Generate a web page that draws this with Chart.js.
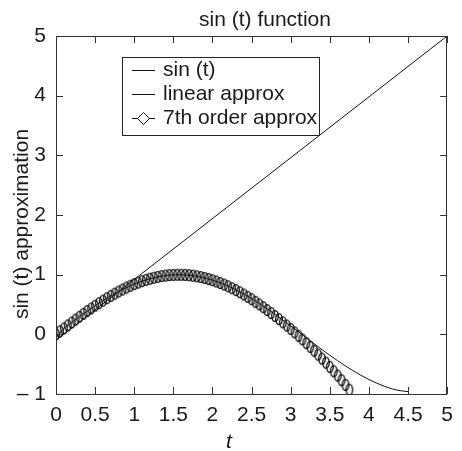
<!DOCTYPE html>
<html><head><meta charset="utf-8">
<script src="https://cdn.jsdelivr.net/npm/chart.js@4/dist/chart.umd.min.js"></script>
<style>html,body{margin:0;padding:0;background:#fff;overflow:hidden}canvas{display:block}</style>
</head><body>
<canvas id="c" width="462" height="451"></canvas>
<script>
// ---- data ----
const titleText = 'sin (t) function';
const xTitle = 't';
const yTitle = 'sin (t) approximation';
const seriesNames = ['sin (t)', 'linear approx', '7th order approx'];
const xTickValues = [0, 0.5, 1, 1.5, 2, 2.5, 3, 3.5, 4, 4.5, 5];
const yTickValues = [-1, 0, 1, 2, 3, 4, 5];

const sinT = [0,0.1,0.2,0.3,0.4,0.5,0.6,0.7,0.8,0.9,1,1.1,1.2,1.3,1.4,1.5,1.6,1.7,1.8,1.9,2,2.1,2.2,2.3,2.4,2.5,2.6,2.7,2.8,2.9,3,3.1,3.2,3.3,3.4,3.5,3.6,3.7,3.8,3.9,4,4.1,4.2,4.3,4.4,4.5];
const sinY = [-0.06,0.0998,0.1987,0.2955,0.3894,0.4794,0.5646,0.6442,0.7174,0.7833,0.8415,0.8912,0.9320,0.9636,0.9854,0.9975,0.9996,0.9917,0.9738,0.9463,0.9093,0.8632,0.8085,0.7457,0.6755,0.5985,0.5155,0.4274,0.3350,0.2392,0.1411,0.0416,-0.0584,-0.1577,-0.2555,-0.3508,-0.4425,-0.5298,-0.6119,-0.6878,-0.7568,-0.8183,-0.8716,-0.9162,-0.9450,-0.9600];

const linT = [0, 5];
const linY = [-0.1, 5];

const polyT = [0,0.05,0.1,0.15,0.2,0.25,0.3,0.35,0.4,0.45,0.5,0.55,0.6,0.65,0.7,0.75,0.8,0.85,0.9,0.95,1,1.05,1.1,1.15,1.2,1.25,1.3,1.35,1.4,1.45,1.5,1.55,1.6,1.65,1.7,1.75,1.8,1.85,1.9,1.95,2,2.05,2.1,2.15,2.2,2.25,2.3,2.35,2.4,2.45,2.5,2.55,2.6,2.65,2.7,2.75,2.8,2.85,2.9,2.95,3,3.05,3.1,3.15,3.2,3.25,3.3,3.35,3.4,3.45,3.5,3.55,3.6,3.65,3.7,3.75];
const polyY = [0,0.0500,0.0998,0.1494,0.1987,0.2474,0.2955,0.3429,0.3894,0.4350,0.4794,0.5227,0.5646,0.6052,0.6442,0.6816,0.7174,0.7513,0.7833,0.8134,0.8415,0.8674,0.8912,0.9128,0.9320,0.9490,0.9636,0.9757,0.9853,0.9926,0.9974,0.9996,0.9994,0.9966,0.9914,0.9836,0.9734,0.9608,0.9457,0.9283,0.9079,0.8857,0.8611,0.8343,0.8053,0.7742,0.7410,0.7058,0.6686,0.6295,0.5886,0.5458,0.5014,0.4553,0.4077,0.3585,0.3078,0.2557,0.2021,0.1473,0.0911,0.0336,-0.0253,-0.0854,-0.1469,-0.2097,-0.2738,-0.3394,-0.4065,-0.4752,-0.5456,-0.6178,-0.6920,-0.7684,-0.8470,-0.9285];

// ---- styling ----
const FONT = "'Liberation Sans', Arial, Helvetica, sans-serif";
const FS = 21;
const INK = '#1a1a1a';

function toXY(xs, ys) { return xs.map((v, i) => ({x: v, y: ys[i]})); }

// oval marker (the diamonds render as narrow ovals in the reference)
const marker = document.createElement('canvas');
marker.width = 10; marker.height = 14;
(function(){
  const m = marker.getContext('2d');
  m.strokeStyle = '#000'; m.lineWidth = 1.3;
  m.beginPath();
  m.ellipse(5, 7, 3.3, 5.4, 0, 0, Math.PI * 2);
  m.stroke();
})();

const decorPlugin = {
  id: 'decor',
  afterDatasetsDraw(chart) {
    const ctx = chart.ctx;
    const {left, right, top, bottom} = chart.chartArea;
    const xs = chart.scales.x, ys = chart.scales.y;
    ctx.save();
    // frame
    ctx.strokeStyle = '#333'; ctx.lineWidth = 1;
    ctx.strokeRect(Math.round(left) + 0.5, Math.round(top) + 0.5, Math.round(right - left) - 1, Math.round(bottom - top));
    // inward tick marks
    const TL = 7;
    ctx.beginPath();
    xTickValues.forEach(v => {
      const px = Math.round(xs.getPixelForValue(v)) + 0.5;
      ctx.moveTo(px, bottom); ctx.lineTo(px, bottom - TL);
      ctx.moveTo(px, top); ctx.lineTo(px, top + TL);
    });
    yTickValues.forEach(v => {
      const py = Math.round(ys.getPixelForValue(v)) + 0.5;
      ctx.moveTo(left, py); ctx.lineTo(left + TL, py);
      ctx.moveTo(right, py); ctx.lineTo(right - TL, py);
    });
    ctx.stroke();

    // legend
    const bx = 122.5, by = 57.5, bw = 197, bh = 78;
    ctx.fillStyle = '#fff';
    ctx.fillRect(bx, by, bw, bh);
    ctx.strokeStyle = '#222';
    ctx.strokeRect(bx, by, bw, bh);
    const rows = [70.5, 94.5, 118.5];
    ctx.font = FS + 'px ' + FONT;
    ctx.textBaseline = 'middle';
    ctx.textAlign = 'left';
    ctx.fillStyle = INK;
    chart.data.datasets.forEach((ds, i) => {
      const y = rows[i];
      ctx.strokeStyle = '#111'; ctx.lineWidth = 1;
      ctx.beginPath(); ctx.moveTo(132, y); ctx.lineTo(155, y); ctx.stroke();
      if (i === 2) {
        const cx = 143.5, h = 6;
        ctx.fillStyle = '#fff';
        ctx.beginPath();
        ctx.moveTo(cx, y - h); ctx.lineTo(cx + h, y); ctx.lineTo(cx, y + h); ctx.lineTo(cx - h, y); ctx.closePath();
        ctx.fill(); ctx.stroke();
        ctx.fillStyle = INK;
      }
      ctx.fillText(ds.label, 163, y);
    });

    // title
    ctx.textAlign = 'center';
    ctx.textBaseline = 'alphabetic';
    ctx.fillText(titleText, 265, 25.5);
    // x title
    ctx.font = 'italic ' + FS + 'px ' + FONT;
    ctx.fillText(xTitle, 229, 448);
    // y title
    ctx.font = FS + 'px ' + FONT;
    ctx.translate(27.5, 224);
    ctx.rotate(-Math.PI / 2);
    ctx.fillText(yTitle, 0, 0);
    ctx.restore();
  }
};

new Chart(document.getElementById('c'), {
  type: 'scatter',
  data: {
    datasets: [
      {label: seriesNames[0], data: toXY(sinT, sinY), showLine: true, borderColor: '#111', borderWidth: 1, pointRadius: 0, fill: false, tension: 0},
      {label: seriesNames[1], data: toXY(linT, linY), showLine: true, borderColor: '#111', borderWidth: 1, pointRadius: 0, fill: false},
      {label: seriesNames[2], data: toXY(polyT, polyY), showLine: false, pointStyle: marker, pointRadius: 5, borderColor: '#000', backgroundColor: 'rgba(0,0,0,0)'}
    ]
  },
  options: {
    responsive: false,
    animation: false,
    devicePixelRatio: 1,
    layout: {padding: {left: 0, right: 6, top: 36, bottom: 0}},
    plugins: {legend: {display: false}, tooltip: {enabled: false}, title: {display: false}},
    scales: {
      x: {
        type: 'linear', min: 0, max: 5,
        grid: {display: false, drawTicks: false},
        border: {display: false},
        afterBuildTicks(s) { s.ticks = xTickValues.map(v => ({value: v})); },
        ticks: {color: INK, font: {family: FONT, size: FS}, padding: 9, maxRotation: 0, autoSkip: false,
          callback: v => String(v)},
        afterFit(s) { s.height = 57; }
      },
      y: {
        type: 'linear', min: -1, max: 5,
        grid: {display: false, drawTicks: false},
        border: {display: false},
        afterBuildTicks(s) { s.ticks = yTickValues.map(v => ({value: v})); },
        ticks: {color: INK, font: {family: FONT, size: FS}, padding: 10, autoSkip: false,
          callback: v => v < 0 ? '\u2013 ' + Math.abs(v) : String(v)},
        afterFit(s) { s.width = 56; }
      }
    }
  },
  plugins: [decorPlugin]
});
</script>
</body></html>
